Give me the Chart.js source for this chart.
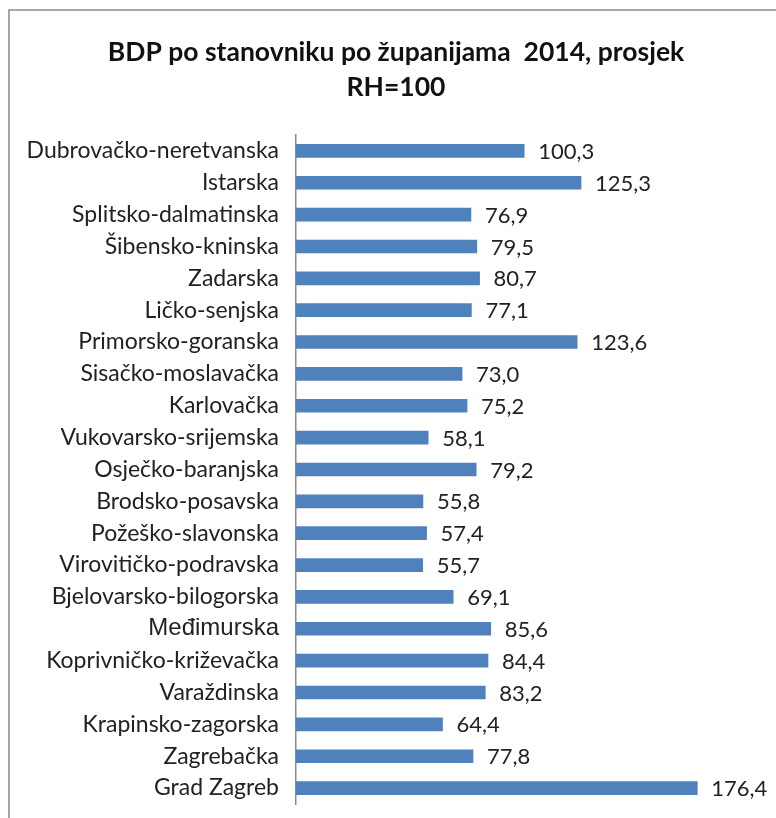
<!DOCTYPE html>
<html>
<head>
<meta charset="utf-8">
<script src="https://cdn.jsdelivr.net/npm/chart.js@4/dist/chart.umd.min.js"></script>
<style>
  html, body { margin: 0; padding: 0; background: #fff; }
  #wrap { position: relative; width: 776px; height: 818px; }
</style>
</head>
<body>
<div id="wrap"><canvas id="c" width="776" height="818"></canvas></div>
<script>
const titleLines = ['BDP po stanovniku po županijama  2014, prosjek', 'RH=100'];
const categories = [
  'Dubrovačko-neretvanska', 'Istarska', 'Splitsko-dalmatinska', 'Šibensko-kninska',
  'Zadarska', 'Ličko-senjska', 'Primorsko-goranska', 'Sisačko-moslavačka',
  'Karlovačka', 'Vukovarsko-srijemska', 'Osječko-baranjska', 'Brodsko-posavska',
  'Požeško-slavonska', 'Virovitičko-podravska', 'Bjelovarsko-bilogorska', 'Međimurska',
  'Koprivničko-križevačka', 'Varaždinska', 'Krapinsko-zagorska', 'Zagrebačka', 'Grad Zagreb'
];
const values = [100.3, 125.3, 76.9, 79.5, 80.7, 77.1, 123.6, 73.0, 75.2, 58.1, 79.2,
  55.8, 57.4, 55.7, 69.1, 85.6, 84.4, 83.2, 64.4, 77.8, 176.4];

const FONT = 'Lato, "Noto Sans", sans-serif';

const frame = {
  id: 'frame',
  beforeDraw(chart) {
    const ctx = chart.ctx;
    ctx.save();
    ctx.fillStyle = '#fff';
    ctx.fillRect(0, 0, chart.width, chart.height);
    ctx.strokeStyle = '#8a8a8a';
    ctx.lineWidth = 1.5;
    ctx.beginPath();
    ctx.moveTo(9, chart.height);
    ctx.lineTo(9, 10);
    ctx.lineTo(chart.width, 10);
    ctx.stroke();
    ctx.restore();
  }
};

const valueLabels = {
  id: 'valueLabels',
  afterDatasetsDraw(chart) {
    const ctx = chart.ctx;
    const meta = chart.getDatasetMeta(0);
    ctx.save();
    ctx.font = '22px ' + FONT;
    ctx.fillStyle = '#222';
    ctx.textAlign = 'left';
    ctx.textBaseline = 'middle';
    meta.data.forEach((el, i) => {
      const v = chart.data.datasets[0].data[i];
      ctx.fillText(v.toFixed(1).replace('.', ','), el.x + 14, el.y + 1);
    });
    ctx.restore();
  }
};

new Chart(document.getElementById('c'), {
  type: 'bar',
  data: {
    labels: categories,
    datasets: [{
      data: values,
      backgroundColor: '#4f81bd',
      borderWidth: 0,
      barThickness: 13
    }]
  },
  options: {
    indexAxis: 'y',
    responsive: false,
    animation: false,
    layout: { padding: { top: 10, right: 0, bottom: 14, left: 16 } },
    plugins: {
      legend: { display: false },
      tooltip: { enabled: false },
      title: {
        display: true,
        text: titleLines,
        color: '#111',
        font: { family: FONT, size: 26.5, weight: 'bold', lineHeight: 1.32 },
        padding: { top: 24.5, bottom: 30.5 }
      }
    },
    scales: {
      x: {
        display: false,
        min: 0,
        max: 211
      },
      y: {
        grid: { display: true, drawOnChartArea: false, drawTicks: true, tickLength: 17, tickColor: 'rgba(0,0,0,0)' },
        border: { display: true, color: '#8a8a8a', width: 1.5 },
        ticks: {
          color: '#222',
          padding: 0,
          font: (ctx) => ctx.index === 15
            ? { family: '"Liberation Sans", Arial, sans-serif', size: 24 }
            : { family: FONT, size: 23 }
        },
        afterFit(scale) { scale.width = 280; }
      }
    }
  },
  plugins: [frame, valueLabels]
});
</script>
</body>
</html>
